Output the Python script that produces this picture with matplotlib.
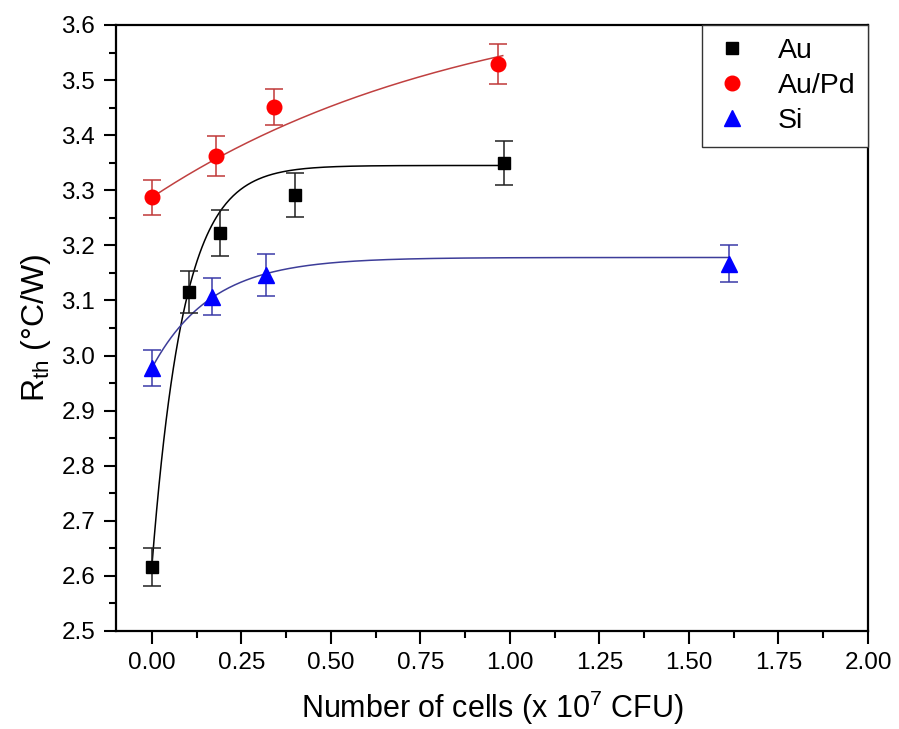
import numpy as np
import matplotlib
matplotlib.use("Agg")
import matplotlib.pyplot as plt
from matplotlib.lines import Line2D
from matplotlib.ticker import MultipleLocator, FormatStrFormatter

plt.rcParams['font.family'] = ['Liberation Sans', 'DejaVu Sans']
plt.rcParams['mathtext.fontset'] = 'custom'
plt.rcParams['mathtext.rm'] = 'Liberation Sans'

# ---- data ----
au_x = [0.0, 0.103, 0.191, 0.40, 0.984]
au_y = [2.616, 3.116, 3.222, 3.291, 3.350]
au_err = [0.034, 0.038, 0.042, 0.040, 0.040]

aupd_x = [0.0, 0.179, 0.342, 0.967]
aupd_y = [3.287, 3.362, 3.451, 3.529]
aupd_err = [0.031, 0.036, 0.033, 0.037]

si_x = [0.0, 0.167, 0.320, 1.612]
si_y = [2.977, 3.107, 3.146, 3.167]
si_err = [0.033, 0.033, 0.038, 0.033]

# exponential-association fit parameters: y = A - B*exp(-x/t)
au_fit = dict(A=3.345, B=0.729, t=0.088, xmax=1.0)
aupd_fit = dict(A=3.675, B=0.388, t=0.90, xmax=0.98)
si_fit = dict(A=3.178, B=0.201, t=0.166, xmax=1.612)

labels = ['Au', 'Au/Pd', 'Si']
xticks = [0.00, 0.25, 0.50, 0.75, 1.00, 1.25, 1.50, 1.75, 2.00]
yticks = [2.5, 2.6, 2.7, 2.8, 2.9, 3.0, 3.1, 3.2, 3.3, 3.4, 3.5, 3.6]

fig = plt.figure(figsize=(8.99, 7.29), dpi=100)
ax = fig.add_axes([116/899, 1-631/729, (868-116)/899, (631-25)/729])

def fitcurve(p):
    xx = np.linspace(0, p['xmax'], 300)
    return xx, p['A'] - p['B']*np.exp(-xx/p['t'])

series = [
    (au_x, au_y, au_err, au_fit, 's', 'black', '#202020', 'black', 9),
    (aupd_x, aupd_y, aupd_err, aupd_fit, 'o', '#ff0000', '#c03838', '#c04040', 10.5),
    (si_x, si_y, si_err, si_fit, '^', '#0000ff', '#3a3aa8', '#3d3d99', 11),
]

for x, y, e, p, m, mc, ec, lc, ms in series:
    xx, yy = fitcurve(p)
    ax.plot(xx, yy, color=lc, lw=1.1, zorder=2)
    ax.errorbar(x, y, yerr=e, fmt=m, ms=ms, mfc=mc, mec=mc, ecolor=ec,
                elinewidth=1.1, capsize=6.5, capthick=1.1, zorder=3)

ax.set_xlim(-0.1, 2.0)
ax.set_ylim(2.5, 3.6)
ax.set_xticks(xticks)
ax.set_yticks(yticks)
ax.xaxis.set_major_formatter(FormatStrFormatter('%.2f'))
ax.yaxis.set_major_formatter(FormatStrFormatter('%.1f'))
ax.xaxis.set_minor_locator(MultipleLocator(0.125))
ax.yaxis.set_minor_locator(MultipleLocator(0.05))
ax.tick_params(which='major', direction='out', length=9, width=1.5, labelsize=17.5, pad=6)
ax.tick_params(which='minor', direction='out', length=5, width=1.5)
ax.tick_params(top=False, right=False, which='both')
for s in ax.spines.values():
    s.set_linewidth(1.6)

ax.set_xlabel('Number of cells (x 10$^{7}$ CFU)', fontsize=22, labelpad=11)
ax.set_ylabel('R$_{\\mathrm{th}}$ (°C/W)', fontsize=23, labelpad=6)

handles = [
    Line2D([], [], ls='none', marker='s', ms=9, mfc='black', mec='black'),
    Line2D([], [], ls='none', marker='o', ms=10.5, mfc='#ff0000', mec='#ff0000'),
    Line2D([], [], ls='none', marker='^', ms=11, mfc='#0000ff', mec='#0000ff'),
]
leg = ax.legend(handles, labels, loc='upper right', fontsize=20.5, frameon=True,
                fancybox=False, framealpha=1, edgecolor='#333333',
                borderaxespad=0, handlelength=1.2, handletextpad=1.0,
                labelspacing=0.32, borderpad=0.45)
leg.get_frame().set_linewidth(1.0)

fig.savefig('out.png', dpi=100)
